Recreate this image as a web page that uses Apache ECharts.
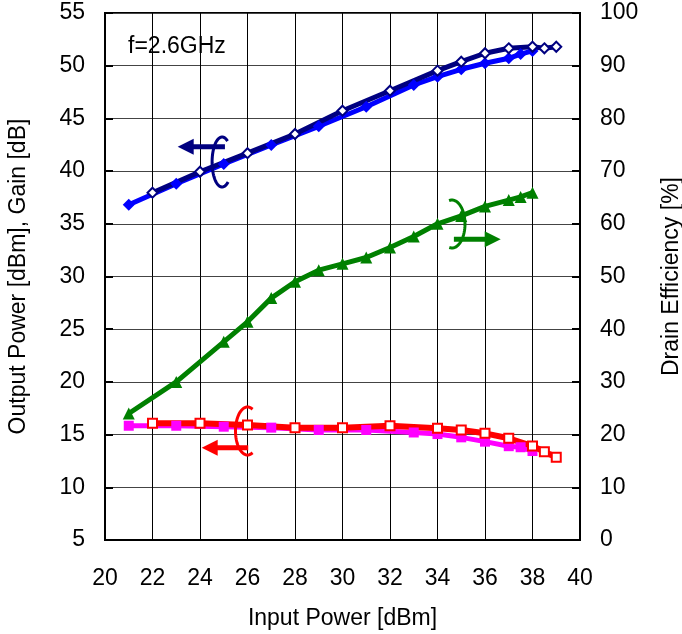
<!DOCTYPE html>
<html>
<head>
<meta charset="utf-8">
<script src="https://cdn.jsdelivr.net/npm/echarts@6/dist/echarts.min.js"></script>
<style>
  html, body { margin: 0; padding: 0; background: #fff; }
  #chart { width: 682px; height: 634px; }
</style>
</head>
<body>
<div id="chart"></div>
<script>
// measurement set A (navy output power, red gain)
const xA = [22, 24, 26, 28, 30, 32, 34, 35, 36, 37, 38, 38.5, 39];
const poutA = [37.95, 39.94, 41.7, 43.52, 45.73, 47.63, 49.53, 50.38, 51.18, 51.65, 51.8, 51.65, 51.8];
const gainA = [16.07, 16.07, 15.9, 15.66, 15.66, 15.84, 15.6, 15.44, 15.12, 14.65, 13.92, 13.38, 12.85];

// measurement set B (blue output power, magenta gain)
const xB = [21, 23, 25, 27, 29, 31, 33, 34, 35, 36, 37, 37.5, 38];
const poutB = [36.8, 38.8, 40.67, 42.48, 44.25, 46.1, 48.17, 48.96, 49.66, 50.23, 50.7, 51.1, 51.4];
const gainB = [15.84, 15.84, 15.75, 15.66, 15.44, 15.44, 15.2, 15.05, 14.74, 14.33, 13.9, 13.8, 13.44];

// drain efficiency (right axis)
const xDE = [21, 23, 25, 26, 27, 28, 29, 30, 31, 32, 33, 34, 35, 36, 37, 37.5, 38];
const drainEff = [24.0, 30.0, 37.6, 41.4, 45.9, 49.0, 51.2, 52.4, 53.6, 55.5, 57.6, 60.0, 61.5, 63.3, 64.5, 65.1, 65.9];

const FONT = "'Liberation Sans', Arial, sans-serif";
const FS = 23;

const pairs = (xs, ys) => xs.map((x, i) => [x, ys[i]]);

const chart = echarts.init(document.getElementById("chart"));

chart.setOption({
  animation: false,
  backgroundColor: "#fff",
  grid: {
    left: 105,
    right: 102,
    top: 13,
    bottom: 94,
    containLabel: false,
    outerBoundsMode: "none",
    show: true,
    borderColor: "#000",
    borderWidth: 2,
  },
  xAxis: {
    type: "value",
    min: 20,
    max: 40,
    interval: 2,
    name: "Input Power [dBm]",
    nameLocation: "middle",
    nameGap: 67,
    nameTextStyle: { fontFamily: FONT, fontSize: FS, color: "#000" },
    axisLine: { lineStyle: { color: "#000", width: 2 } },
    axisTick: { show: false },
    axisLabel: { fontFamily: FONT, fontSize: FS, color: "#000", margin: 27 },
    splitLine: { lineStyle: { color: "#000", width: 1 } },
  },
  yAxis: [
    {
      type: "value",
      min: 5,
      max: 55,
      interval: 5,
      name: "Output Power [dBm], Gain [dB]",
      nameLocation: "middle",
      nameRotate: 90,
      nameGap: 75,
      nameTextStyle: { fontFamily: FONT, fontSize: FS, color: "#000" },
      axisLine: { show: true, lineStyle: { color: "#000", width: 2 } },
      axisTick: { show: true, inside: true, length: 8, lineStyle: { color: "#000", width: 2 } },
      axisLabel: { fontFamily: FONT, fontSize: FS, color: "#000", margin: 20 },
      splitLine: { lineStyle: { color: "#444", width: 1 } },
    },
    {
      type: "value",
      min: 0,
      max: 100,
      interval: 10,
      position: "right",
      name: "Drain Efficiency [%]",
      nameLocation: "middle",
      nameRotate: 90,
      nameGap: 80,
      nameTextStyle: { fontFamily: FONT, fontSize: FS, color: "#000" },
      axisLine: { show: true, lineStyle: { color: "#000", width: 2 } },
      axisTick: { show: true, inside: true, length: 8, lineStyle: { color: "#000", width: 2 } },
      axisLabel: { fontFamily: FONT, fontSize: FS, color: "#000", margin: 20 },
      splitLine: { show: false },
    },
  ],
  series: [
    {
      name: "Pout B",
      type: "line",
      data: pairs(xB, poutB),
      symbol: "diamond",
      symbolSize: 12,
      itemStyle: { color: "#0000ff" },
      lineStyle: { color: "#0000ff", width: 5 },
    },
    {
      name: "Pout A",
      type: "line",
      data: pairs(xA, poutA),
      symbol: "emptyDiamond",
      symbolSize: 10,
      itemStyle: { color: "#000080", borderWidth: 2 },
      lineStyle: { color: "#000080", width: 5 },
    },
    {
      name: "Drain Efficiency",
      type: "line",
      yAxisIndex: 1,
      data: pairs(xDE, drainEff),
      symbol: "triangle",
      symbolSize: 12,
      itemStyle: { color: "#008000" },
      lineStyle: { color: "#008000", width: 5 },
    },
    {
      name: "Gain B",
      type: "line",
      data: pairs(xB, gainB),
      symbol: "rect",
      symbolSize: 10,
      itemStyle: { color: "#ff00ff" },
      lineStyle: { color: "#ff00ff", width: 5 },
    },
    {
      name: "Gain A",
      type: "line",
      data: pairs(xA, gainA),
      symbol: "emptyRect",
      symbolSize: 9,
      itemStyle: { color: "#ff0000", borderWidth: 2 },
      lineStyle: { color: "#ff0000", width: 6 },
    },
  ],
});

// curled arrows pointing to the axis each curve belongs to (data coords on left axis)
const arrows = [
  { color: "#000080", tail: [25.05, 42.3], tip: [23.06, 42.3], center: [24.93, 40.86], rx: 10, ry: 25, from: 53, to: 307 },
  { color: "#008000", tail: [34.69, 33.53], tip: [36.66, 33.53], center: [34.61, 34.98], rx: 13, ry: 24, from: -103, to: 103 },
  { color: "#ff0000", tail: [26.03, 13.76], tip: [24.07, 13.76], center: [26.0, 15.34], rx: 12, ry: 24, from: 65, to: 295 },
];

const toPx = (p) => chart.convertToPixel({ xAxisIndex: 0, yAxisIndex: 0 }, p);

const graphic = [];
arrows.forEach((a) => {
  const t = toPx(a.tail);
  const h = toPx(a.tip);
  const c = toPx(a.center);
  const dir = Math.sign(h[0] - t[0]);
  const headLen = 16;
  const headHalf = 8;
  graphic.push({
    type: "polyline",
    shape: { points: [t, [h[0] - dir * headLen + dir, h[1]]] },
    style: { stroke: a.color, lineWidth: 5, fill: null },
    z: 100,
  });
  graphic.push({
    type: "polygon",
    shape: { points: [h, [h[0] - dir * headLen, h[1] - headHalf], [h[0] - dir * headLen, h[1] + headHalf]] },
    style: { fill: a.color },
    z: 100,
  });
  const pts = [];
  for (let d = a.from; d <= a.to; d += 5) {
    const r = (d * Math.PI) / 180;
    pts.push([c[0] + a.rx * Math.cos(r), c[1] + a.ry * Math.sin(r)]);
  }
  graphic.push({
    type: "polyline",
    shape: { points: pts },
    style: { stroke: a.color, lineWidth: 3, fill: null },
    z: 100,
  });
});

const lbl = toPx([20.97, 51.8]);
graphic.push({
  type: "text",
  x: lbl[0],
  y: lbl[1],
  style: { text: "f=2.6GHz", font: "23px " + FONT, fill: "#000", verticalAlign: "middle" },
  z: 100,
});

chart.setOption({ graphic: graphic });
</script>
</body>
</html>
